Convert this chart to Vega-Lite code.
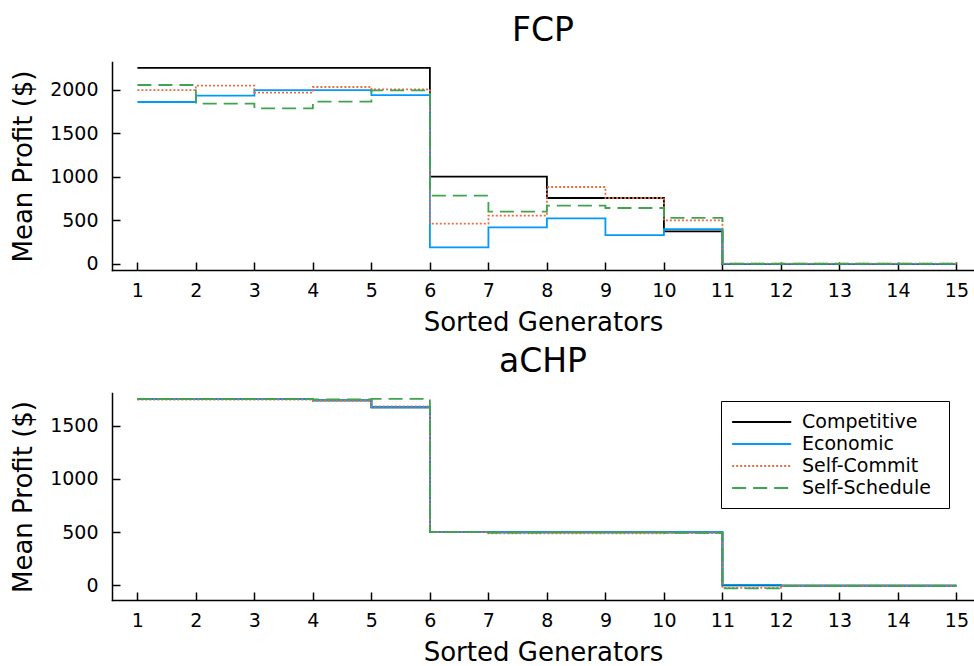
{
  "$schema": "https://vega.github.io/schema/vega-lite/v6.json",
  "padding": {"left": 10, "top": 15, "right": 0, "bottom": 0},
  "config": {
    "font": "DejaVu Sans",
    "view": {"stroke": null},
    "axis": {"grid": false, "domainColor": "black", "tickColor": "black", "labelColor": "black", "titleColor": "black", "labelFont": "DejaVu Sans", "titleFont": "DejaVu Sans", "labelFontSize": 19, "titleFontSize": 26, "titleFontWeight": "normal", "tickSize": -8, "domainWidth": 1.5, "tickWidth": 1.5, "domainCap": "square"},
    "title": {"fontSize": 33, "fontWeight": "normal", "font": "DejaVu Sans", "color": "black", "offset": 14},
    "concat": {"spacing": 11},
    "line": {"strokeWidth": 1.8, "interpolate": "step-after"}
  },
  "data": {"values": [
    {"panel": "FCP", "series": "Competitive", "gen": 1, "profit": 2250},
    {"panel": "FCP", "series": "Competitive", "gen": 2, "profit": 2250},
    {"panel": "FCP", "series": "Competitive", "gen": 3, "profit": 2250},
    {"panel": "FCP", "series": "Competitive", "gen": 4, "profit": 2250},
    {"panel": "FCP", "series": "Competitive", "gen": 5, "profit": 2250},
    {"panel": "FCP", "series": "Competitive", "gen": 6, "profit": 1003},
    {"panel": "FCP", "series": "Competitive", "gen": 7, "profit": 1003},
    {"panel": "FCP", "series": "Competitive", "gen": 8, "profit": 757},
    {"panel": "FCP", "series": "Competitive", "gen": 9, "profit": 757},
    {"panel": "FCP", "series": "Competitive", "gen": 10, "profit": 375},
    {"panel": "FCP", "series": "Competitive", "gen": 11, "profit": 0},
    {"panel": "FCP", "series": "Competitive", "gen": 12, "profit": 0},
    {"panel": "FCP", "series": "Competitive", "gen": 13, "profit": 0},
    {"panel": "FCP", "series": "Competitive", "gen": 14, "profit": 0},
    {"panel": "FCP", "series": "Competitive", "gen": 15, "profit": 0},
    {"panel": "FCP", "series": "Economic", "gen": 1, "profit": 1858},
    {"panel": "FCP", "series": "Economic", "gen": 2, "profit": 1931},
    {"panel": "FCP", "series": "Economic", "gen": 3, "profit": 1995},
    {"panel": "FCP", "series": "Economic", "gen": 4, "profit": 1995},
    {"panel": "FCP", "series": "Economic", "gen": 5, "profit": 1938},
    {"panel": "FCP", "series": "Economic", "gen": 6, "profit": 191},
    {"panel": "FCP", "series": "Economic", "gen": 7, "profit": 421},
    {"panel": "FCP", "series": "Economic", "gen": 8, "profit": 524},
    {"panel": "FCP", "series": "Economic", "gen": 9, "profit": 330},
    {"panel": "FCP", "series": "Economic", "gen": 10, "profit": 401},
    {"panel": "FCP", "series": "Economic", "gen": 11, "profit": 2},
    {"panel": "FCP", "series": "Economic", "gen": 12, "profit": 2},
    {"panel": "FCP", "series": "Economic", "gen": 13, "profit": 2},
    {"panel": "FCP", "series": "Economic", "gen": 14, "profit": 2},
    {"panel": "FCP", "series": "Economic", "gen": 15, "profit": 2},
    {"panel": "FCP", "series": "Self-Commit", "gen": 1, "profit": 1995},
    {"panel": "FCP", "series": "Self-Commit", "gen": 2, "profit": 2046},
    {"panel": "FCP", "series": "Self-Commit", "gen": 3, "profit": 1966},
    {"panel": "FCP", "series": "Self-Commit", "gen": 4, "profit": 2030},
    {"panel": "FCP", "series": "Self-Commit", "gen": 5, "profit": 2003},
    {"panel": "FCP", "series": "Self-Commit", "gen": 6, "profit": 463},
    {"panel": "FCP", "series": "Self-Commit", "gen": 7, "profit": 555},
    {"panel": "FCP", "series": "Self-Commit", "gen": 8, "profit": 883},
    {"panel": "FCP", "series": "Self-Commit", "gen": 9, "profit": 757},
    {"panel": "FCP", "series": "Self-Commit", "gen": 10, "profit": 501},
    {"panel": "FCP", "series": "Self-Commit", "gen": 11, "profit": 3},
    {"panel": "FCP", "series": "Self-Commit", "gen": 12, "profit": 3},
    {"panel": "FCP", "series": "Self-Commit", "gen": 13, "profit": 3},
    {"panel": "FCP", "series": "Self-Commit", "gen": 14, "profit": 3},
    {"panel": "FCP", "series": "Self-Commit", "gen": 15, "profit": 3},
    {"panel": "FCP", "series": "Self-Schedule", "gen": 1, "profit": 2053},
    {"panel": "FCP", "series": "Self-Schedule", "gen": 2, "profit": 1839},
    {"panel": "FCP", "series": "Self-Schedule", "gen": 3, "profit": 1786},
    {"panel": "FCP", "series": "Self-Schedule", "gen": 4, "profit": 1862},
    {"panel": "FCP", "series": "Self-Schedule", "gen": 5, "profit": 1992},
    {"panel": "FCP", "series": "Self-Schedule", "gen": 6, "profit": 784},
    {"panel": "FCP", "series": "Self-Schedule", "gen": 7, "profit": 601},
    {"panel": "FCP", "series": "Self-Schedule", "gen": 8, "profit": 670},
    {"panel": "FCP", "series": "Self-Schedule", "gen": 9, "profit": 642},
    {"panel": "FCP", "series": "Self-Schedule", "gen": 10, "profit": 528},
    {"panel": "FCP", "series": "Self-Schedule", "gen": 11, "profit": 3},
    {"panel": "FCP", "series": "Self-Schedule", "gen": 12, "profit": 3},
    {"panel": "FCP", "series": "Self-Schedule", "gen": 13, "profit": 3},
    {"panel": "FCP", "series": "Self-Schedule", "gen": 14, "profit": 3},
    {"panel": "FCP", "series": "Self-Schedule", "gen": 15, "profit": 3},
    {"panel": "aCHP", "series": "Competitive", "gen": 1, "profit": 1750},
    {"panel": "aCHP", "series": "Competitive", "gen": 2, "profit": 1750},
    {"panel": "aCHP", "series": "Competitive", "gen": 3, "profit": 1750},
    {"panel": "aCHP", "series": "Competitive", "gen": 4, "profit": 1736},
    {"panel": "aCHP", "series": "Competitive", "gen": 5, "profit": 1672},
    {"panel": "aCHP", "series": "Competitive", "gen": 6, "profit": 500},
    {"panel": "aCHP", "series": "Competitive", "gen": 7, "profit": 497},
    {"panel": "aCHP", "series": "Competitive", "gen": 8, "profit": 497},
    {"panel": "aCHP", "series": "Competitive", "gen": 9, "profit": 497},
    {"panel": "aCHP", "series": "Competitive", "gen": 10, "profit": 497},
    {"panel": "aCHP", "series": "Competitive", "gen": 11, "profit": 0},
    {"panel": "aCHP", "series": "Competitive", "gen": 12, "profit": -3},
    {"panel": "aCHP", "series": "Competitive", "gen": 13, "profit": -3},
    {"panel": "aCHP", "series": "Competitive", "gen": 14, "profit": -3},
    {"panel": "aCHP", "series": "Competitive", "gen": 15, "profit": -3},
    {"panel": "aCHP", "series": "Economic", "gen": 1, "profit": 1750},
    {"panel": "aCHP", "series": "Economic", "gen": 2, "profit": 1750},
    {"panel": "aCHP", "series": "Economic", "gen": 3, "profit": 1750},
    {"panel": "aCHP", "series": "Economic", "gen": 4, "profit": 1736},
    {"panel": "aCHP", "series": "Economic", "gen": 5, "profit": 1672},
    {"panel": "aCHP", "series": "Economic", "gen": 6, "profit": 500},
    {"panel": "aCHP", "series": "Economic", "gen": 7, "profit": 500},
    {"panel": "aCHP", "series": "Economic", "gen": 8, "profit": 500},
    {"panel": "aCHP", "series": "Economic", "gen": 9, "profit": 500},
    {"panel": "aCHP", "series": "Economic", "gen": 10, "profit": 500},
    {"panel": "aCHP", "series": "Economic", "gen": 11, "profit": 4},
    {"panel": "aCHP", "series": "Economic", "gen": 12, "profit": -3},
    {"panel": "aCHP", "series": "Economic", "gen": 13, "profit": -3},
    {"panel": "aCHP", "series": "Economic", "gen": 14, "profit": -3},
    {"panel": "aCHP", "series": "Economic", "gen": 15, "profit": -3},
    {"panel": "aCHP", "series": "Self-Commit", "gen": 1, "profit": 1745},
    {"panel": "aCHP", "series": "Self-Commit", "gen": 2, "profit": 1745},
    {"panel": "aCHP", "series": "Self-Commit", "gen": 3, "profit": 1745},
    {"panel": "aCHP", "series": "Self-Commit", "gen": 4, "profit": 1733},
    {"panel": "aCHP", "series": "Self-Commit", "gen": 5, "profit": 1681},
    {"panel": "aCHP", "series": "Self-Commit", "gen": 6, "profit": 500},
    {"panel": "aCHP", "series": "Self-Commit", "gen": 7, "profit": 487},
    {"panel": "aCHP", "series": "Self-Commit", "gen": 8, "profit": 487},
    {"panel": "aCHP", "series": "Self-Commit", "gen": 9, "profit": 487},
    {"panel": "aCHP", "series": "Self-Commit", "gen": 10, "profit": 490},
    {"panel": "aCHP", "series": "Self-Commit", "gen": 11, "profit": -25},
    {"panel": "aCHP", "series": "Self-Commit", "gen": 12, "profit": -3},
    {"panel": "aCHP", "series": "Self-Commit", "gen": 13, "profit": -3},
    {"panel": "aCHP", "series": "Self-Commit", "gen": 14, "profit": -3},
    {"panel": "aCHP", "series": "Self-Commit", "gen": 15, "profit": -3},
    {"panel": "aCHP", "series": "Self-Schedule", "gen": 1, "profit": 1750},
    {"panel": "aCHP", "series": "Self-Schedule", "gen": 2, "profit": 1750},
    {"panel": "aCHP", "series": "Self-Schedule", "gen": 3, "profit": 1750},
    {"panel": "aCHP", "series": "Self-Schedule", "gen": 4, "profit": 1746},
    {"panel": "aCHP", "series": "Self-Schedule", "gen": 5, "profit": 1750},
    {"panel": "aCHP", "series": "Self-Schedule", "gen": 6, "profit": 500},
    {"panel": "aCHP", "series": "Self-Schedule", "gen": 7, "profit": 495},
    {"panel": "aCHP", "series": "Self-Schedule", "gen": 8, "profit": 497},
    {"panel": "aCHP", "series": "Self-Schedule", "gen": 9, "profit": 497},
    {"panel": "aCHP", "series": "Self-Schedule", "gen": 10, "profit": 492},
    {"panel": "aCHP", "series": "Self-Schedule", "gen": 11, "profit": -28},
    {"panel": "aCHP", "series": "Self-Schedule", "gen": 12, "profit": -5},
    {"panel": "aCHP", "series": "Self-Schedule", "gen": 13, "profit": -5},
    {"panel": "aCHP", "series": "Self-Schedule", "gen": 14, "profit": -5},
    {"panel": "aCHP", "series": "Self-Schedule", "gen": 15, "profit": -5}
  ]},
  "vconcat": [
    {
      "title": "FCP",
      "width": 862,
      "height": 208,
      "transform": [{"filter": "datum.panel === 'FCP'"}],
      "mark": {"type": "line"},
      "encoding": {
        "x": {"field": "gen", "type": "quantitative", "scale": {"domain": [0.566, 15.3], "nice": false, "zero": false},
              "axis": {"values": [1,2,3,4,5,6,7,8,9,10,11,12,13,14,15], "title": "Sorted Generators", "labelPadding": 19, "titlePadding": 9, "labelFlush": false}},
        "y": {"field": "profit", "type": "quantitative", "scale": {"domain": [-69, 2317], "nice": false, "zero": false},
              "axis": {"values": [0, 500, 1000, 1500, 2000], "format": "d", "title": "Mean Profit ($)", "labelPadding": 22, "titlePadding": 13}},
        "color": {"field": "series", "type": "nominal", "scale": {"domain": ["Competitive", "Economic", "Self-Commit", "Self-Schedule"], "range": ["#000000", "#009AFA", "#E26F46", "#3EA44E"]}, "legend": null},
        "strokeDash": {"field": "series", "type": "nominal", "scale": {"domain": ["Competitive", "Economic", "Self-Commit", "Self-Schedule"], "range": [[1, 0], [1, 0], [2, 2], [14, 7]]}, "legend": null}
      }
    },
    {
      "title": "aCHP",
      "width": 862,
      "height": 207,
      "transform": [{"filter": "datum.panel === 'aCHP'"}],
      "mark": {"type": "line"},
      "encoding": {
        "x": {"field": "gen", "type": "quantitative", "scale": {"domain": [0.566, 15.3], "nice": false, "zero": false},
              "axis": {"values": [1,2,3,4,5,6,7,8,9,10,11,12,13,14,15], "title": "Sorted Generators", "labelPadding": 19, "titlePadding": 9, "labelFlush": false}},
        "y": {"field": "profit", "type": "quantitative", "scale": {"domain": [-138, 1806], "nice": false, "zero": false},
              "axis": {"values": [0, 500, 1000, 1500], "format": "d", "title": "Mean Profit ($)", "labelPadding": 22, "titlePadding": 13}},
        "color": {"field": "series", "type": "nominal", "scale": {"domain": ["Competitive", "Economic", "Self-Commit", "Self-Schedule"], "range": ["#000000", "#009AFA", "#E26F46", "#3EA44E"]},
                  "legend": {"title": "\u00a0", "titleOrient": "right", "titleFontSize": 6, "titlePadding": 8, "orient": "none", "legendX": 609, "legendY": 8, "symbolType": "M -1 0 H 5", "symbolSize": 388, "symbolStrokeWidth": 1.8, "labelFontSize": 19, "labelFont": "DejaVu Sans", "labelColor": "black", "labelOffset": 49, "padding": 10, "strokeColor": "black", "fillColor": "white", "rowPadding": 1, "cornerRadius": 0}},
        "strokeDash": {"field": "series", "type": "nominal", "scale": {"domain": ["Competitive", "Economic", "Self-Commit", "Self-Schedule"], "range": [[1, 0], [1, 0], [2, 2], [14, 7]]},
                  "legend": {"title": "\u00a0", "titleOrient": "right", "titleFontSize": 6, "titlePadding": 8, "orient": "none", "legendX": 609, "legendY": 8, "symbolType": "M -1 0 H 5", "symbolSize": 388, "symbolStrokeWidth": 1.8, "labelFontSize": 19, "labelFont": "DejaVu Sans", "labelColor": "black", "labelOffset": 49, "padding": 10, "strokeColor": "black", "fillColor": "white", "rowPadding": 1, "cornerRadius": 0}}
      }
    }
  ],
  "resolve": {"scale": {"color": "independent", "strokeDash": "independent"}, "legend": {"color": "independent", "strokeDash": "independent"}}
}
